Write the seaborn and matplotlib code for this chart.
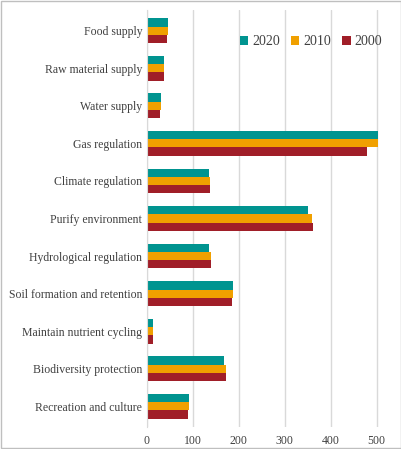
import matplotlib
matplotlib.use("Agg")
import matplotlib.pyplot as plt
import seaborn as sns
import pandas as pd

categories = ["Food supply", "Raw material supply", "Water supply", "Gas regulation",
              "Climate regulation", "Purify environment", "Hydrological regulation",
              "Soil formation and retention", "Maintain nutrient cycling",
              "Biodiversity protection", "Recreation and culture"]
v2020 = [46, 38, 30, 504, 136, 350, 136, 187, 12, 167, 91]
v2010 = [46, 38, 30, 503, 138, 359, 139, 188, 12, 171, 91]
v2000 = [43, 38, 28, 480, 138, 362, 139, 185, 13, 171, 89]
years = ["2020", "2010", "2000"]

rows = []
for y, vals in zip(years, [v2020, v2010, v2000]):
    for c, v in zip(categories, vals):
        rows.append({"cat": c, "year": y, "val": v})
df = pd.DataFrame(rows)

sns.set_style("white")
plt.rcParams["font.family"] = ["Liberation Serif", "DejaVu Serif"]

fig = plt.figure(figsize=(4.02, 4.49), dpi=100)
ax = fig.add_axes([147/402, (449-427)/449, (395-147)/402, (427-10)/449])
sns.barplot(data=df, y="cat", x="val", hue="year", hue_order=years,
            palette=["#009490", "#F0A000", "#A01E28"], saturation=1, orient="h",
            width=0.66, ax=ax, edgecolor="none")
ax.set_xlim(0, 540)
ax.set_ylim(10.55, -0.55)
ax.set_xticks([0, 100, 200, 300, 400, 500])
ax.xaxis.grid(True, color="#d9d9d9", linewidth=1)
ax.set_axisbelow(True)
for s in ax.spines.values():
    s.set_visible(False)
ax.spines["left"].set_visible(True)
ax.spines["left"].set_color("#d9d9d9")
ax.set_xlabel("")
ax.set_ylabel("")
ax.tick_params(axis="both", labelsize=8.5, colors="#404040", length=0)
ax.tick_params(axis="x", pad=6)
ax.legend(loc="upper right", bbox_to_anchor=(1.0, 0.97), ncol=3, frameon=False,
          fontsize=10, handlelength=0.6, handleheight=0.6, columnspacing=0.8,
          handletextpad=0.3, labelcolor="#404040")
fig.patches.append(plt.Rectangle((0.003, 0.003), 0.994, 0.994, transform=fig.transFigure,
                                 fill=False, edgecolor="#bfbfbf", linewidth=1))
fig.savefig("out.png", dpi=100)
